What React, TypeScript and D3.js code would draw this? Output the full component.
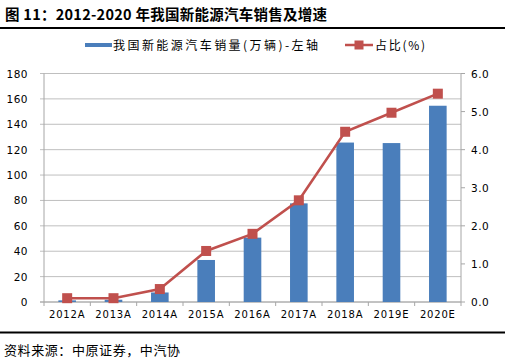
import React from "react";
import * as d3 from "d3";

const categories = ["2012A", "2013A", "2014A", "2015A", "2016A", "2017A", "2018A", "2019E", "2020E"];
const sales = [1.3, 1.8, 7.5, 33.1, 50.7, 77.7, 125.6, 125.2, 154.6];
const share = [0.1, 0.1, 0.34, 1.34, 1.79, 2.67, 4.47, 4.97, 5.47];
const leftTicks = [0, 20, 40, 60, 80, 100, 120, 140, 160, 180];
const rightTicks = [0, 1, 2, 3, 4, 5, 6];

const W = 505;
const H = 363;
const m = { left: 44, right: 461, top: 73.5, bottom: 302 };
const CJK = "'Noto Sans CJK SC', 'Noto Sans', sans-serif";
const BLUE = "#4A7EBB";
const RED = "#C0504D";

export default function App() {
  const x = d3.scaleBand<string>().domain(categories).range([m.left, m.right]);
  const yL = d3.scaleLinear().domain([0, 180]).range([m.bottom, m.top]);
  const yR = d3.scaleLinear().domain([0, 6]).range([m.bottom, m.top]);
  const barW = x.bandwidth() * 0.38;
  const line = d3
    .line<number>()
    .x((_, i) => (x(categories[i]) as number) + x.bandwidth() / 2)
    .y((d) => yR(d));

  return (
    <svg width={W} height={H} style={{ position: "absolute", left: 0, top: 0, background: "#fff" }}>
      <text x={5} y={20} fontFamily={CJK} fontWeight="bold" fontSize={14.5} fill="#000" textLength={322} lengthAdjust="spacing">
        图 11：2012-2020 年我国新能源汽车销售及增速
      </text>
      <line x1={0} x2={W} y1={28} y2={28} stroke="#000" strokeWidth={2} />

      {/* legend */}
      <line x1={85} x2={112} y1={45} y2={45} stroke={BLUE} strokeWidth={4} />
      <text x={113} y={49.5} fontFamily={CJK} fontSize={12} fill="#000" textLength={205} lengthAdjust="spacing">
        我国新能源汽车销量(万辆)-左轴
      </text>
      <line x1={345} x2={373} y1={45} y2={45} stroke={RED} strokeWidth={2.5} />
      <rect x={354.5} y={40.5} width={9} height={9} fill={RED} />
      <text x={375} y={49.5} fontFamily={CJK} fontSize={12} fill="#000" textLength={50} lengthAdjust="spacing">
        占比(%)
      </text>

      {/* gridlines */}
      {leftTicks.map((t) => (
        <line key={"g" + t} x1={m.left - 4} x2={m.right} y1={yL(t)} y2={yL(t)} stroke="#BFBFBF" strokeWidth={1} />
      ))}
      {/* left axis */}
      <line x1={m.left} x2={m.left} y1={m.top} y2={m.bottom} stroke="#A6A6A6" />
      {leftTicks.map((t) => (
        <text key={"l" + t} x={28} y={yL(t) + 4} textAnchor="end" fontFamily="'DejaVu Sans', sans-serif" fontSize={10.5} fill="#000" letterSpacing={0.5}>
          {t}
        </text>
      ))}
      {/* right axis */}
      <line x1={m.right} x2={m.right} y1={m.top} y2={m.bottom} stroke="#A6A6A6" />
      {rightTicks.map((t) => (
        <g key={"r" + t}>
          <line x1={m.right} x2={m.right + 4} y1={yR(t)} y2={yR(t)} stroke="#A6A6A6" />
          <text x={471} y={yR(t) + 4} fontFamily="'DejaVu Sans', sans-serif" fontSize={10.5} fill="#000" letterSpacing={0.5}>
            {t.toFixed(1)}
          </text>
        </g>
      ))}
      {/* x axis */}
      <line x1={m.left - 4} x2={m.right} y1={m.bottom} y2={m.bottom} stroke="#A6A6A6" />
      {categories.map((c) => (
        <line key={"xt" + c} x1={x(c) as number} x2={x(c) as number} y1={m.bottom} y2={m.bottom + 4} stroke="#A6A6A6" />
      ))}
      <line x1={m.right} x2={m.right} y1={m.bottom} y2={m.bottom + 4} stroke="#A6A6A6" />
      {categories.map((c) => (
        <text key={"xl" + c} x={(x(c) as number) + x.bandwidth() / 2} y={318} textAnchor="middle" fontFamily="'DejaVu Sans', sans-serif" fontSize={10} fill="#000" letterSpacing={0.8}>
          {c}
        </text>
      ))}

      {/* bars */}
      {sales.map((v, i) => (
        <rect
          key={"b" + i}
          x={(x(categories[i]) as number) + (x.bandwidth() - barW) / 2}
          y={yL(v)}
          width={barW}
          height={m.bottom - yL(v)}
          fill={BLUE}
        />
      ))}

      {/* line */}
      <path d={line(share) as string} fill="none" stroke={RED} strokeWidth={2.5} />
      {share.map((v, i) => (
        <rect
          key={"p" + i}
          x={(x(categories[i]) as number) + x.bandwidth() / 2 - 5}
          y={yR(v) - 5}
          width={10}
          height={10}
          fill={RED}
        />
      ))}

      <line x1={0} x2={W} y1={332.5} y2={332.5} stroke="#000" strokeWidth={2} />
      <text x={4} y={354.5} fontFamily={CJK} fontSize={13} fill="#000" textLength={176} lengthAdjust="spacing">
        资料来源：中原证券，中汽协
      </text>
    </svg>
  );
}
